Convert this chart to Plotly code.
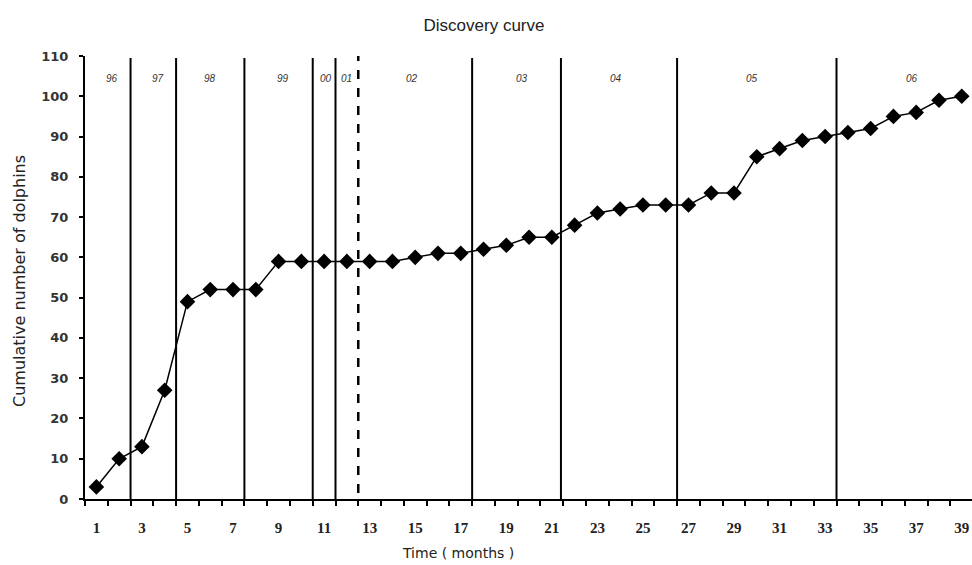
import plotly.graph_objects as go

months = list(range(1, 40))
cumulative = [3, 10, 13, 27, 49, 52, 52, 52, 59, 59, 59, 59, 59, 59, 60, 61, 61, 62, 63, 65,
              65, 68, 71, 72, 73, 73, 73, 76, 76, 85, 87, 89, 90, 91, 92, 95, 96, 99, 100]

year_bounds = [2.5, 4.5, 7.5, 10.5, 11.5, 17.5, 21.4, 26.5, 33.5]
dashed_bound = [12.5]
year_labels = ["96", "97", "98", "99", "00", "01", "02", "03", "04", "05", "06"]
year_label_x = [1.7, 3.7, 6.0, 9.2, 11.1, 12.0, 14.85, 19.7, 23.8, 29.8, 36.8]
year_label_y = 104.5

x_tickvals = list(range(1, 40, 2))
y_tickvals = list(range(0, 111, 10))

W, H = 972, 565
L, T, B, R = 85, 56, 66, 0
PW, PH = W - L - R, H - T - B

fig = go.Figure()

for b in year_bounds:
    fig.add_shape(type="line", xref="x", yref="y", x0=b, x1=b, y0=0, y1=109.5,
                  line=dict(color="black", width=2))
for b in dashed_bound:
    fig.add_shape(type="line", xref="x", yref="y", x0=b, x1=b, y0=1.5, y1=110.5,
                  line=dict(color="black", width=2.5, dash="dash"))

fig.add_trace(go.Scatter(
    x=months, y=cumulative, mode="lines+markers",
    line=dict(color="black", width=1.5),
    marker=dict(symbol="diamond", size=12, color="black"),
    showlegend=False, hoverinfo="x+y", cliponaxis=False))

for lbl, lx in zip(year_labels, year_label_x):
    fig.add_annotation(x=lx, y=year_label_y, xref="x", yref="y", text=lbl, showarrow=False,
                       font=dict(family="Liberation Sans", size=10, color="#333", style="italic"))

fig.update_layout(
    width=W, height=H,
    margin=dict(l=L, r=R, t=T, b=B, autoexpand=False),
    paper_bgcolor="white", plot_bgcolor="white",
    title=dict(text="Discovery curve", x=484 / W, xanchor="center",
               y=1 - 25 / H, yanchor="middle",
               font=dict(family="Liberation Sans", size=17, color="#222")),
    xaxis=dict(range=[0.5, 39.45], tickvals=x_tickvals, ticktext=[str(v) for v in x_tickvals],
               ticks="", showgrid=False, zeroline=False, automargin=False,
               showline=True, linecolor="black", linewidth=2, ticklabelstandoff=14,
               tickfont=dict(family="Liberation Serif", size=15, color="#222", weight="bold"),
               minor=dict(tick0=0.5, dtick=1, ticks="outside", ticklen=5, tickwidth=2,
                          tickcolor="black", showgrid=False)),
    yaxis=dict(range=[0, 110], tickvals=y_tickvals, ticks="outside", ticklen=4, tickwidth=2,
               tickcolor="black", showgrid=False, zeroline=False, automargin=False,
               showline=True, linecolor="black", linewidth=2, ticklabelstandoff=8,
               tickfont=dict(family="DejaVu Sans", size=13, color="#333", weight="bold")),
)

fig.add_annotation(xref="paper", yref="paper", x=(458 - L) / PW, y=-(553 - 499) / PH,
                   text="Time ( months )", showarrow=False, xanchor="center", yanchor="middle",
                   font=dict(family="DejaVu Sans", size=14, color="#222"))
fig.add_annotation(xref="paper", yref="paper", x=-(L - 19) / PW, y=(499 - 281) / PH,
                   text="Cumulative number of dolphins", showarrow=False, textangle=-90,
                   xanchor="center", yanchor="middle",
                   font=dict(family="DejaVu Sans", size=16, color="#222"))

fig.write_html("out.html", config={"displayModeBar": False},
               post_script="document.body.style.margin='0px';document.body.style.overflow='hidden';")
